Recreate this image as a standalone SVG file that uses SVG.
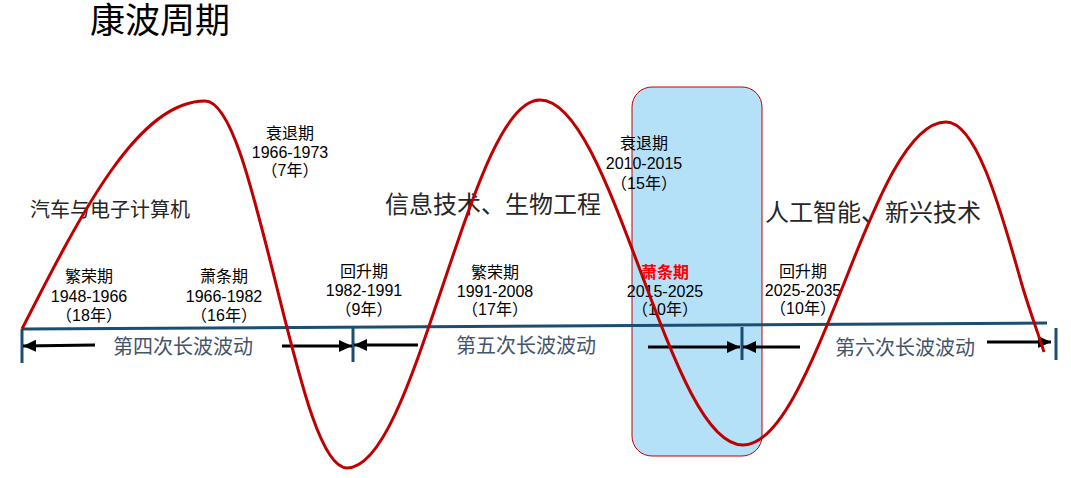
<svg xmlns="http://www.w3.org/2000/svg" width="1071" height="478" viewBox="0 0 1071 478">
<defs>
<style>
.cjk{font-family:"Liberation Serif","Noto Sans CJK SC",serif;}
.lbl{font-family:"Liberation Sans","Noto Sans CJK SC",sans-serif;font-size:16px;fill:#000;text-anchor:middle;}
.big{font-family:"Liberation Serif","Noto Sans CJK SC",serif;fill:#262626;}
.wave{font-family:"Liberation Serif","Noto Sans CJK SC",serif;font-size:20px;fill:#44546a;text-anchor:middle;}
.arr{stroke:#000;stroke-width:3;fill:none;marker-end:url(#ah);}
.tick{stroke:#1b4f72;stroke-width:3;}
</style>
<marker id="ah" markerUnits="userSpaceOnUse" markerWidth="14" markerHeight="14" refX="13" refY="7" orient="auto">
<path d="M0,1 L13,7 L0,13 z" fill="#000"/>
</marker>
</defs>
<rect width="1071" height="478" fill="#fff"/>
<g id="highlight">
<rect x="632" y="87" width="130" height="369" rx="20" ry="20" fill="#b4e0f8" stroke="#c00000" stroke-width="1"/>
</g>
<g id="title">
<text x="90" y="33" class="cjk" font-size="35" fill="#000">康波周期</text>
</g>
<g id="industries">
<text x="30" y="217" class="big" font-size="20">汽车与电子计算机</text>
<text x="385" y="213" class="big" font-size="24">信息技术、生物工程</text>
<text x="765" y="221" class="big" font-size="24">人工智能、新兴技术</text>
</g>
<g id="phase-1"><text class="lbl" x="89" y="282">繁荣期</text><text class="lbl" x="89" y="302">1948-1966</text><text class="lbl" x="89" y="321">（18年）</text></g>
<g id="phase-2"><text class="lbl" x="224" y="282">萧条期</text><text class="lbl" x="224" y="302">1966-1982</text><text class="lbl" x="224" y="321">（16年）</text></g>
<g id="phase-3"><text class="lbl" x="290" y="139">衰退期</text><text class="lbl" x="290" y="158">1966-1973</text><text class="lbl" x="290" y="176">（7年）</text></g>
<g id="phase-4"><text class="lbl" x="364" y="277">回升期</text><text class="lbl" x="364" y="296">1982-1991</text><text class="lbl" x="364" y="315">（9年）</text></g>
<g id="phase-5"><text class="lbl" x="495" y="278">繁荣期</text><text class="lbl" x="495" y="297">1991-2008</text><text class="lbl" x="495" y="315">（17年）</text></g>
<g id="phase-6"><text class="lbl" x="644" y="149">衰退期</text><text class="lbl" x="644" y="169">2010-2015</text><text class="lbl" x="644" y="189">（15年）</text></g>
<g id="phase-7"><text class="lbl" x="665" y="278" fill="#ff0000" font-weight="bold" style="fill:#ff0000">萧条期</text><text class="lbl" x="665" y="297">2015-2025</text><text class="lbl" x="665" y="315">（10年）</text></g>
<g id="phase-8"><text class="lbl" x="803" y="277">回升期</text><text class="lbl" x="803" y="296">2025-2035</text><text class="lbl" x="803" y="314">（10年）</text></g>
<g id="waves">
<text class="wave" x="183" y="354">第四次长波波动</text>
<text class="wave" x="526" y="353">第五次长波波动</text>
<text class="wave" x="905" y="355">第六次长波波动</text>
</g>
<g id="connectors">
<line x1="22" y1="329" x2="1047" y2="323" stroke="#1b4f72" stroke-width="3"/>
<line class="tick" x1="22" y1="329" x2="22" y2="363"/>
<line class="tick" x1="353" y1="328" x2="353" y2="362"/>
<line class="tick" x1="742" y1="327" x2="742" y2="360"/>
<line class="tick" x1="1056" y1="328" x2="1056" y2="360"/>
<line class="arr" x1="95" y1="345" x2="23" y2="346"/>
<line class="arr" x1="282" y1="346" x2="352" y2="346"/>
<line class="arr" x1="418" y1="345" x2="354" y2="345"/>
<line class="arr" x1="648" y1="347" x2="740" y2="347"/>
<line class="arr" x1="800" y1="347" x2="743" y2="347"/>
<line class="arr" x1="987" y1="342" x2="1051" y2="342"/>
</g>
<g id="curve">
<path fill="none" stroke="#c00000" stroke-width="3" d="M22,329 C83,209 139,101 205,101 C231,101 252,188 276,284 C300,380 321,468 347,468 C382,468 411,380 443.5,283.5 C476,187 505,100 540,100 C576,100 607,182 641,272.5 C675,363 706,445 743,445 C779,445 810,368 844,283.5 C877,199 909,122 946,122 C975,122 998,199 1022,285 C1030,312 1038,333 1044,352"/>
</g>
</svg>
